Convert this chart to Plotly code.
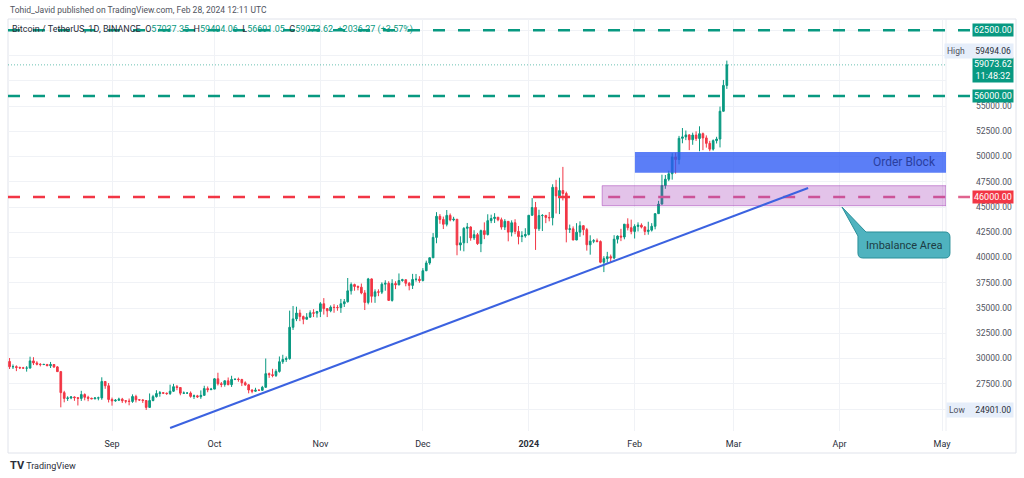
import pandas as pd
import plotly.graph_objects as go

# ---------------- data (BTC/USDT daily, Binance) ----------------
dates = pd.date_range("2023-08-01", "2024-02-28", freq="D")

opens = [
    # Aug
    29230, 29705, 29186, 29193, 29114, 29072, 29048, 29050, 29765, 29560, 29430, 29400, 29415, 29280, 29405, 29170,
    28700, 26620, 26050, 26090, 26190, 26125, 26050, 26430, 26160, 26060, 26010, 26090, 26100, 27725, 27300,
    # Sep
    25940, 25800, 25870, 25970, 25815, 25780, 25750, 26240, 25910, 25900, 25840, 25160, 25840, 26225, 26530,
    26610, 26570, 26530, 26760, 27210, 27130, 26570, 26580, 26580, 26250, 26300, 26210, 26350, 27020, 26910,
    # Oct
    26970, 27990, 27500, 27430, 27790, 27410, 27930, 27950, 27920, 27590, 27390, 26880, 26760, 26860, 26850, 27150,
    28500, 28400, 28320, 28720, 29680, 29910, 29990, 33090, 33920, 34500, 34150, 33890, 34090, 34530, 34490,
    # Nov
    34650, 35420, 34940, 34720, 35080, 35050, 35040, 35420, 35620, 36700, 37320, 37130, 37060, 36490, 35550,
    37880, 36160, 36600, 36570, 37360, 37450, 35750, 37420, 37290, 37720, 37800, 37450, 37240, 37830, 37850,
    # Dec
    37720, 38690, 39460, 39970, 41990, 44080, 43770, 43290, 44170, 43720, 43790, 41240, 41450, 42890, 43020, 41940,
    42260, 41370, 42660, 42270, 43650, 43860, 43990, 43740, 43010, 43580, 42510, 43440, 42580, 42070, 42140,
    # Jan
    42280, 44180, 44950, 42850, 44150, 44160, 43970, 43930, 46950, 46100, 46630, 46340, 42780, 42840, 41730, 42510,
    43150, 42760, 41260, 41620, 41660, 41580, 39530, 39890, 40080, 39950, 41810, 42120, 42030, 43300, 42950,
    # Feb
    42580, 43080, 43200, 43010, 42580, 42710, 43090, 44340, 45290, 47130, 47750, 48290, 49960, 49700,
    51800, 51940, 52140, 51660, 52120, 51780, 52260, 51840, 51300, 50730, 51570, 51730, 54480, 57037.35,
]
highs = [
    29730, 30047, 29410, 29320, 29190, 29170, 29245, 30180, 30130, 29730, 29540, 29470, 29450, 29660, 29440, 29250,
    28770, 26800, 26260, 26280, 26250, 26135, 26800, 26550, 26310, 26120, 26180, 26220, 28140, 27760, 27570,
    26130, 25980, 26120, 26100, 25880, 26040, 26450, 26410, 25940, 25985, 25880, 26540, 26400, 26860, 26780,
    26670, 26620, 27410, 27490, 27380, 27160, 26740, 26640, 26740, 26430, 26400, 26840, 27300, 27230, 27090,
    28070, 28590, 27670, 27830, 28120, 28290, 28000, 28110, 27990, 27740, 27480, 26940, 27100, 26960, 27290, 30000,
    28610, 28980, 28930, 30200, 30370, 30200, 34740, 35200, 35130, 34840, 34250, 34490, 34770, 34880, 34720,
    35580, 35980, 34940, 35260, 35380, 35280, 35900, 35890, 37970, 37530, 37410, 37230, 37420, 36770, 37980,
    37930, 36850, 36850, 37540, 37750, 37650, 37850, 37650, 38420, 37890, 37820, 37580, 38380, 38370, 38150,
    38950, 39690, 40000, 42420, 44490, 44300, 44050, 44700, 44360, 44030, 43800, 42100, 43000, 43420, 43090, 42700,
    42430, 42760, 43480, 44280, 44240, 44390, 44000, 43950, 43800, 43600, 43680, 43790, 43120, 42600, 42900,
    44180, 45880, 45500, 44730, 44300, 44230, 44500, 47250, 47690, 47900, 48970, 46520, 43260, 43080, 43400, 43580,
    43200, 42930, 42200, 41820, 41880, 41690, 40130, 40560, 40290, 42210, 42190, 42840, 43310, 43880, 43750,
    43290, 43480, 43380, 43120, 43540, 43400, 44370, 45610, 48200, 48170, 48590, 50330, 50370, 52040,
    52820, 52570, 52200, 52360, 52490, 52990, 52370, 52090, 51550, 51690, 51950, 54940, 57580, 59494.06,
]
lows = [
    28585, 28960, 28960, 28750, 28955, 28980, 28700, 29010, 29350, 29320, 29220, 29350, 29250, 29060, 29060, 28700,
    25166, 25660, 25800, 25970, 25810, 25350, 25800, 25860, 25770, 25980, 25960, 25860, 25910, 27000, 25650,
    25330, 25720, 25790, 25600, 25570, 25370, 25610, 25650, 25800, 25600, 24901, 25130, 25760, 26130, 26220,
    26480, 26400, 26390, 26680, 26860, 26360, 26480, 26500, 26120, 25990, 26090, 26000, 26340, 26660, 26890,
    26960, 27330, 27160, 27210, 27350, 27180, 27860, 27700, 27270, 27290, 26550, 26560, 26700, 26810, 26800, 27110,
    28080, 28140, 28170, 28600, 29470, 29660, 29880, 32830, 33700, 33700, 33390, 33860, 34050, 34100, 34050,
    34100, 34350, 34100, 34580, 34530, 34730, 34520, 35100, 35540, 36330, 36710, 36750, 36360, 34800, 35360,
    35530, 35510, 36170, 36380, 36710, 35740, 35630, 36870, 37250, 37600, 37150, 36750, 36880, 37610, 37500,
    37630, 38650, 39280, 39970, 41410, 43340, 42820, 43080, 43580, 43580, 40220, 40680, 40610, 41420, 41660, 41730,
    41250, 40530, 41820, 42180, 43400, 43420, 43590, 42760, 42720, 41600, 42090, 42310, 41300, 41520, 41960,
    42180, 44150, 40750, 42630, 42620, 43400, 43580, 43180, 44360, 44300, 45650, 41500, 42430, 41720, 41720, 42050,
    42200, 40680, 40280, 41420, 41500, 39430, 38555, 39480, 39520, 39820, 41390, 41620, 41800, 42680, 42300,
    41880, 42580, 42880, 42220, 42260, 42570, 42790, 44330, 45240, 46800, 47560, 47710, 48300, 49220,
    51310, 51620, 50630, 51160, 51540, 50520, 50630, 50880, 50520, 50580, 51290, 50900, 54450, 56691.05,
]
closes = [
    29705, 29186, 29193, 29114, 29072, 29048, 29050, 29765, 29560, 29430, 29400, 29415, 29280, 29405, 29170, 28700,
    26620, 26050, 26090, 26190, 26125, 26050, 26430, 26160, 26060, 26010, 26090, 26100, 27725, 27300, 25940,
    25800, 25870, 25970, 25815, 25780, 25750, 26240, 25910, 25900, 25840, 25160, 25840, 26225, 26530, 26610,
    26570, 26530, 26760, 27210, 27130, 26570, 26580, 26580, 26250, 26300, 26210, 26350, 27020, 26910, 26970,
    27990, 27500, 27430, 27790, 27410, 27930, 27950, 27920, 27590, 27390, 26880, 26760, 26860, 26850, 27150, 28500,
    28400, 28320, 28720, 29680, 29910, 29990, 33090, 33920, 34500, 34150, 33890, 34090, 34530, 34490, 34650,
    35420, 34940, 34720, 35080, 35050, 35040, 35420, 35620, 36700, 37320, 37130, 37060, 36490, 35550, 37880,
    36160, 36600, 36570, 37360, 37450, 35750, 37420, 37290, 37720, 37800, 37450, 37240, 37830, 37850, 37720,
    38690, 39460, 39970, 41990, 44080, 43770, 43290, 44170, 43720, 43790, 41240, 41450, 42890, 43020, 41940, 42260,
    41370, 42660, 42270, 43650, 43860, 43990, 43740, 43010, 43580, 42510, 43440, 42580, 42070, 42140, 42280,
    44180, 44950, 42850, 44150, 44160, 43970, 43930, 46950, 46100, 46630, 46340, 42780, 42840, 41730, 42510, 43150,
    42760, 41260, 41620, 41660, 41580, 39530, 39890, 40080, 39950, 41810, 42120, 42030, 43300, 42950, 42580,
    43080, 43200, 43010, 42580, 42710, 43090, 44340, 45290, 47130, 47750, 48290, 49960, 49700, 51800,
    51940, 52140, 51660, 52120, 51780, 52260, 51840, 51300, 50730, 51570, 51730, 54480, 57037.35, 59073.62,
]

level_green = [62500, 56000]
level_red = 46000
last_price = 59073.62
high_price = 59494.06
low_price = 24901.00
order_block = ("2024-02-01 02:00", 48396, 50446)
imbalance = ("2024-01-22 12:00", 45129, 47109)
trend_start = ("2023-09-18", 23119)
trend_end = ("2024-03-22 19:00", 46881)
callout_tip = ("2024-04-01 17:00", 45000)

month_ticks = ["2023-09-01", "2023-10-01", "2023-11-01", "2023-12-01", "2024-01-01",
               "2024-02-01", "2024-03-01", "2024-04-01", "2024-05-01"]
month_labels = ["Sep", "Oct", "Nov", "Dec", "<b>2024</b>", "Feb", "Mar", "Apr", "May"]
price_grid = list(range(22500, 65000, 2500))
price_ticks = [v for v in price_grid if v not in (25000, 57500, 60000, 62500)]

# ---------------- layout geometry ----------------
W, H = 1024, 478
ML, MR, MT, MB = 8, 78, 19, 47
PW, PH = W - ML - MR, H - MT - MB
X0, X1 = pd.Timestamp("2023-08-01 13:00"), pd.Timestamp("2024-05-02 04:00")
Y0, Y1 = 22822, 63614

GREEN = "#089981"
RED = "#f23645"
PINK = "#e0648f"
FONT = "Roboto"


def px_x(px):
    return (px - ML) / PW


def px_y(py):
    return (H - MB - py) / PH


def dx_paper(d):
    return (pd.Timestamp(d) - X0) / (X1 - X0)


def dy_paper(p):
    return (p - Y0) / (Y1 - Y0)


fig = go.Figure()
fig.add_trace(go.Candlestick(
    x=dates, open=opens, high=highs, low=lows, close=closes,
    increasing=dict(line=dict(color=GREEN, width=1), fillcolor=GREEN),
    decreasing=dict(line=dict(color=RED, width=1), fillcolor=RED),
    whiskerwidth=0, hoverinfo="skip", showlegend=False,
))

shapes = []
# frame
shapes.append(dict(type="rect", xref="paper", yref="paper", x0=0, x1=px_x(1016), y0=px_y(453), y1=1,
                   line=dict(color="#e0e3eb", width=1), layer="below"))
shapes.append(dict(type="line", xref="paper", yref="paper", x0=1, x1=1, y0=0, y1=1,
                   line=dict(color="#eceef3", width=1), layer="below"))
# current price dotted line
shapes.append(dict(type="line", xref="paper", yref="y", x0=0, x1=1, y0=last_price, y1=last_price,
                   line=dict(color="rgba(8,153,129,0.6)", width=1, dash="1px,2px")))
# horizontal levels
for lv in level_green:
    shapes.append(dict(type="line", xref="paper", yref="y", x0=0, x1=px_x(970), y0=lv, y1=lv,
                       line=dict(color=GREEN, width=2.5, dash="12px,13px")))
shapes.append(dict(type="line", xref="paper", yref="y", x0=0, x1=dx_paper(imbalance[0]), y0=level_red, y1=level_red,
                   line=dict(color=RED, width=2.5, dash="12px,13px")))
shapes.append(dict(type="line", xref="paper", yref="y", x0=dx_paper(imbalance[0]) + 6 / PW, x1=px_x(970),
                   y0=level_red, y1=level_red, line=dict(color=PINK, width=2.5, dash="12px,13px")))
# boxes
shapes.append(dict(type="rect", xref="x", yref="y", x0=order_block[0], x1=X1, y0=order_block[1], y1=order_block[2],
                   fillcolor="rgba(45,90,245,0.78)", line=dict(width=0)))
shapes.append(dict(type="rect", xref="x", yref="y", x0=imbalance[0], x1=X1, y0=imbalance[1], y1=imbalance[2],
                   fillcolor="rgba(156,39,176,0.28)", line=dict(color="rgba(156,39,176,0.45)", width=1)))
# trend line
shapes.append(dict(type="line", xref="x", yref="y", x0=trend_start[0], y0=trend_start[1],
                   x1=trend_end[0], y1=trend_end[1], line=dict(color="#3b62e0", width=2)))

# callout (tip anchored to data, box offset in pixels)
tx, ty = dx_paper(callout_tip[0]), dy_paper(callout_tip[1])
ux, uy = 1 / PW, 1 / PH


def P(ox, oy):
    return f"{tx + ox * ux:.5f},{ty - oy * uy:.5f}"


r = 5
bl, br, bt, bb = 16, 108, 25, 51
path = (f"M {P(0, 0)} L {P(bl + 8, bt)} L {P(br - r, bt)} Q {P(br, bt)} {P(br, bt + r)} "
        f"L {P(br, bb - r)} Q {P(br, bb)} {P(br - r, bb)} L {P(bl + r, bb)} Q {P(bl, bb)} {P(bl, bb - r)} "
        f"L {P(bl, bt + 4)} Z")
shapes.append(dict(type="path", xref="paper", yref="paper", path=path,
                   fillcolor="#4fb3bf", line=dict(color="#2a8f99", width=1)))

ann = []
ann.append(dict(xref="paper", yref="paper", x=tx + (bl + br) / 2 * ux, y=ty - (bt + bb) / 2 * uy,
                text="Imbalance Area", showarrow=False, font=dict(family=FONT, size=11, color="#1d3d44"),
                xanchor="center", yanchor="middle"))
ann.append(dict(xref="x", yref="y", x="2024-04-20", y=(order_block[1] + order_block[2]) / 2,
                text="Order Block", showarrow=False, font=dict(family=FONT, size=12, color="#2a3f9f"),
                xanchor="center", yanchor="middle"))

# price-axis badges
BX = px_x(1014)
for lv in level_green:
    ann.append(dict(xref="paper", yref="y", x=BX, y=lv, text=f"{lv:.2f}", showarrow=False,
                    xanchor="right", yanchor="middle", bgcolor=GREEN, borderpad=1,
                    font=dict(family=FONT, size=9, color="white")))
ann.append(dict(xref="paper", yref="y", x=BX, y=level_red, text=f"{level_red:.2f}", showarrow=False,
                xanchor="right", yanchor="middle", bgcolor=RED, borderpad=1,
                font=dict(family=FONT, size=9, color="white")))
ann.append(dict(xref="paper", yref="y", x=BX, y=last_price, yshift=-5,
                text=f"{last_price:.2f}<br>11:48:32", showarrow=False,
                xanchor="right", yanchor="middle", bgcolor=GREEN, borderpad=1,
                font=dict(family=FONT, size=9, color="white")))
ann.append(dict(xref="paper", yref="y", x=BX, y=high_price, yshift=10,
                text=f"<span style='color:#50535e'>High</span>     {high_price:.2f}", showarrow=False,
                xanchor="right", yanchor="middle", bgcolor="#e6eefa", borderpad=2,
                font=dict(family=FONT, size=8.5, color="#2a2e39")))
ann.append(dict(xref="paper", yref="y", x=BX, y=low_price,
                text=f"<span style='color:#50535e'>Low</span>     {low_price:.2f}", showarrow=False,
                xanchor="right", yanchor="middle", bgcolor="#e6eefa", borderpad=2,
                font=dict(family=FONT, size=8.5, color="#2a2e39")))

# header texts
ann.append(dict(xref="paper", yref="paper", x=px_x(8), y=px_y(10), xanchor="left", yanchor="middle",
                text="Tohid_Javid published on TradingView.com, Feb 28, 2024 12:11 UTC", showarrow=False,
                font=dict(family=FONT, size=8.5, color="#50535e")))
o, h, l, c = opens[-1], highs[-1], lows[-1], closes[-1]
chg = c - o
g = lambda s: f"<span style='color:{GREEN}'>{s}</span>"
sym = ("Bitcoin / TetherUS, 1D, BINANCE  O" + g(f"{o:.2f}") + "  H" + g(f"{h:.2f}") + "  L" + g(f"{l:.2f}")
       + "  C" + g(f"{c:.2f}") + "  " + g(f"+{chg:.2f} (+{chg / o * 100:.2f}%)"))
ann.append(dict(xref="paper", yref="paper", x=px_x(10), y=px_y(30), xanchor="left", yanchor="middle",
                text=sym, showarrow=False, font=dict(family=FONT, size=9, color="#2a2e39")))
ann.append(dict(xref="paper", yref="paper", x=px_x(8), y=px_y(465), xanchor="left", yanchor="middle",
                text="<b style='font-size:11px'>TV</b> TradingView", showarrow=False,
                font=dict(family=FONT, size=9, color="#2a2e39")))

fig.update_layout(
    width=W, height=H, margin=dict(l=ML, r=MR, t=MT, b=MB, autoexpand=False),
    paper_bgcolor="white", plot_bgcolor="white",
    shapes=shapes, annotations=ann, showlegend=False, hovermode=False,
    xaxis=dict(type="date", range=[X0, X1], rangeslider=dict(visible=False),
               tickvals=month_ticks, ticktext=month_labels, showgrid=True, gridcolor="#f0f2f6",
               zeroline=False, showline=False, ticks="", ticklabelstandoff=6,
               tickfont=dict(family=FONT, size=9, color="#2a2e39")),
    yaxis=dict(side="right", range=[Y0, Y1], tickvals=price_ticks, tickformat=".2f",
               showgrid=True, gridcolor="#f0f2f6", zeroline=False, showline=False, ticks="",
               minor=dict(tickmode="array", tickvals=price_grid, showgrid=True, gridcolor="#f0f2f6", ticks=""),
               ticklabelstandoff=29, tickfont=dict(family=FONT, size=8.5, color="#50535e")),
)

fig.write_html("out.html", config={"displayModeBar": False},
               post_script="document.body.style.margin='0';document.body.style.overflow='hidden';")
